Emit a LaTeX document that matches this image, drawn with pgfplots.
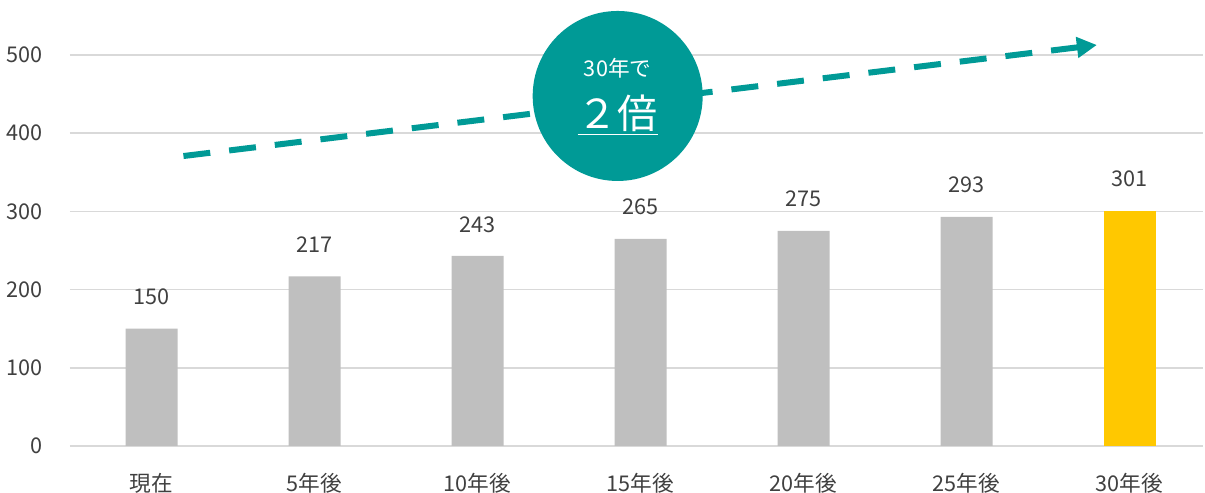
\documentclass[border=0pt]{standalone}
\usepackage{fontspec}
\setmainfont{Noto Sans CJK JP}
\usepackage{pgfplots}
\pgfplotsset{compat=1.18}
\usetikzlibrary{arrows.meta}

\definecolor{bargray}{HTML}{BFBFBF}
\definecolor{bargold}{HTML}{FFC800}
\definecolor{tealc}{HTML}{009A96}
\definecolor{gridc}{HTML}{D9D9D9}
\definecolor{txt}{HTML}{404040}

\begin{document}
\begin{tikzpicture}
\begin{axis}[
  at={(0,0)}, anchor=south west,
  scale only axis,
  width=679.8pt, height=234.6pt,
  xmin=-0.5, xmax=6.451,
  ymin=0, ymax=500,
  ytick={0,100,...,500},
  xtick={0,1,2,3,4,5,6},
  xticklabels={現在,5年後,10年後,15年後,20年後,25年後,30年後},
  ymajorgrids,
  grid style={gridc, line width=1pt},
  axis line style={draw=none},
  tick style={draw=none},
  ybar, bar width=31.2pt, bar shift=0pt,
  clip=false,
  font=\fontsize{13}{15}\selectfont,
  tick label style={txt},
  /pgf/number format/assume math mode=true,
  yticklabel style={xshift=-13pt},
  xticklabel style={anchor=center, yshift=-18pt},
  nodes near coords,
  nodes near coords style={txt, anchor=center, yshift=19pt, font=\fontsize{13}{15}\selectfont},
]
\addplot[draw=none, fill=bargray] coordinates {
  (0,150) (1,217) (2,243) (3,265) (4,275) (5,293)
};
\addplot[draw=none, fill=bargold] coordinates {
  (6,301)
};
\draw[tealc, line width=3.6pt, dash pattern=on 16.2pt off 11.4pt,
      -{Triangle[length=12pt, width=12pt]}]
  (axis cs:0.196,370.8) -- (axis cs:5.80,512.8);
\node[circle, fill=tealc, minimum size=102pt, inner sep=0pt] (c) at (axis cs:2.86,447.6) {};
\node[white, font=\fontsize{13}{15}\selectfont] at ([yshift=16.8pt]c.center) {30年で};
\node[white, font=\fontsize{24}{28}\selectfont] at ([yshift=-11.4pt]c.center) {\underline{２倍}};
\end{axis}
\pgfresetboundingbox
\path[use as bounding box] (-42pt,-28.2pt) rectangle (681pt,267.6pt);
\end{tikzpicture}
\end{document}
